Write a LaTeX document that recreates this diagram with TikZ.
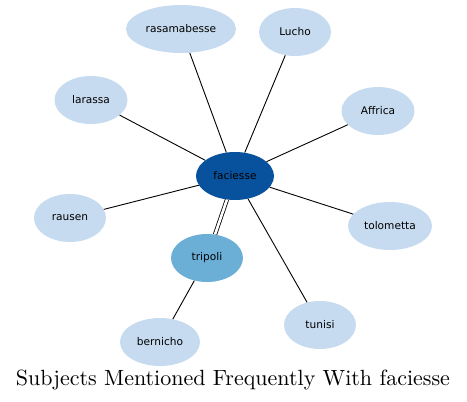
\documentclass[tikz,border=0pt]{standalone}
\usepackage{fontspec}
\newfontfamily\nodefont{DejaVu Sans}
\newfontfamily\titlefont{lmroman10-regular.otf}
\usetikzlibrary{shapes.geometric}
\definecolor{lightnode}{HTML}{C6DBEF}
\definecolor{hubnode}{HTML}{08519C}
\definecolor{midnode}{HTML}{6BAED6}
\begin{document}
\begin{tikzpicture}[x=1pt,y=-1pt,
  bubble/.style={ellipse,fill=lightnode,inner sep=0pt,font=\nodefont\fontsize{10.6}{12}\selectfont},
  edge/.style={draw=black,line width=0.9pt}]
\useasboundingbox (0,0) rectangle (467,402);
\node[bubble,minimum width=110,minimum height=48] (rasamabesse) at (181,29) {rasamabesse};
\node[bubble,minimum width=72,minimum height=48] (lucho) at (295,32) {Lucho};
\node[bubble,minimum width=73,minimum height=48] (larassa) at (91,100) {larassa};
\node[bubble,minimum width=73,minimum height=48] (affrica) at (378,111) {Affrica};
\node[bubble,minimum width=78,minimum height=48,fill=hubnode] (faciesse) at (235,176) {faciesse};
\node[bubble,minimum width=72,minimum height=48] (rausen) at (70,218) {rausen};
\node[bubble,minimum width=84,minimum height=48] (tolometta) at (390,226) {tolometta};
\node[bubble,minimum width=72,minimum height=48,fill=midnode] (tripoli) at (207,258) {tripoli};
\node[bubble,minimum width=72,minimum height=48] (tunisi) at (320,325) {tunisi};
\node[bubble,minimum width=80,minimum height=48] (bernicho) at (160,342) {bernicho};
\foreach \n in {rasamabesse,lucho,larassa,affrica,rausen,tolometta,tunisi}
  \draw[edge] (faciesse) -- (\n);
\draw[edge,double=white,double distance=2.6pt,line width=0.8pt] (faciesse) -- (tripoli);
\draw[edge] (tripoli) -- (bernicho);
\node[font=\titlefont\fontsize{22}{24}\selectfont,inner sep=0pt] (title) at (233,380) {Subjects Mentioned Frequently With faciesse};
\end{tikzpicture}
\end{document}
